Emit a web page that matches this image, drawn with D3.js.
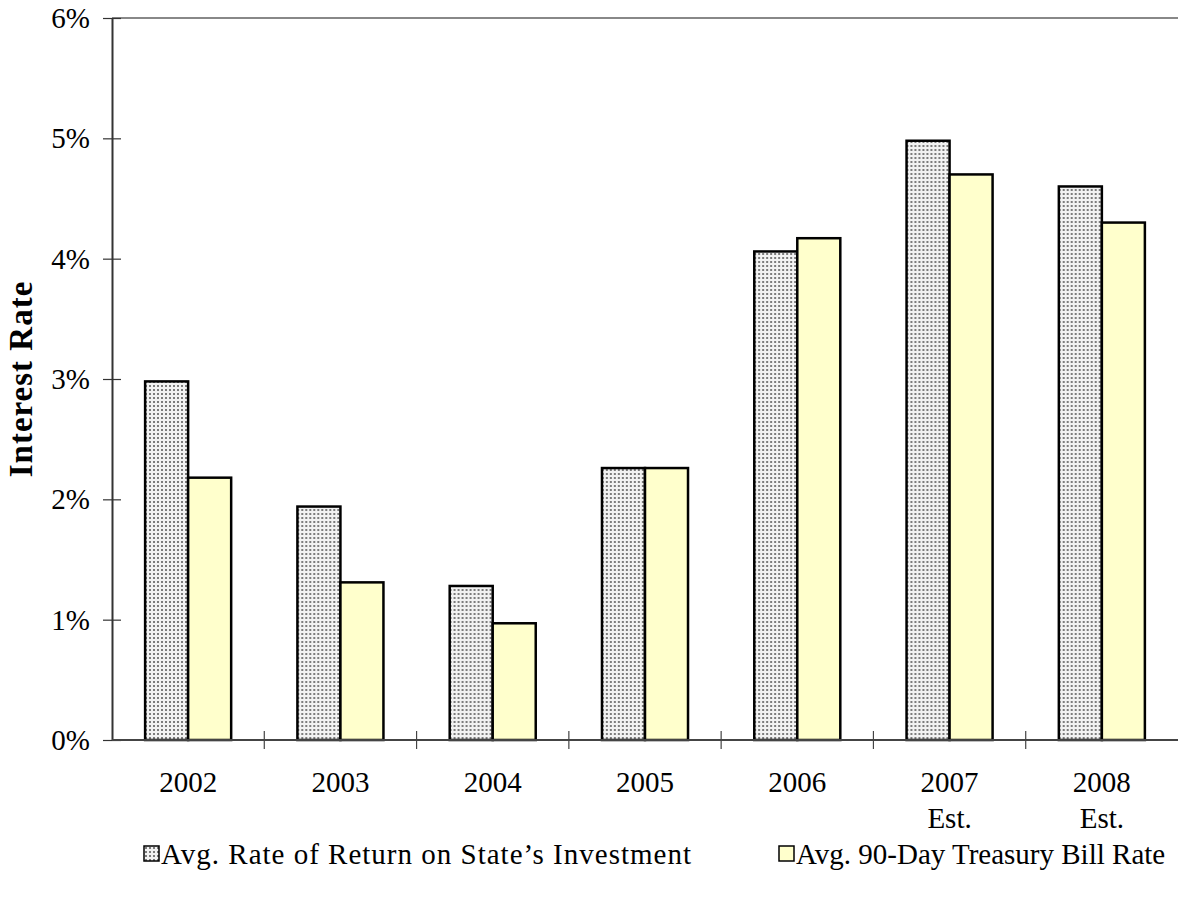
<!DOCTYPE html>
<html>
<head>
    <title>Interest Rate Chart</title>
    <script src="https://d3js.org/d3.v7.min.js"></script>
    <style>
        body {margin: 0; background: #fff;}
        text {font-family: "Liberation Serif", "Times New Roman", serif;}
    </style>
</head>
<body>
<script>
    // chart data
    const years = ["2002", "2003", "2004", "2005", "2006", "2007", "2008"];
    const yearSub = ["", "", "", "", "", "Est.", "Est."];
    const seriesNames = ["Avg. Rate of Return on State\u2019s Investment", "Avg. 90-Day Treasury Bill Rate"];
    const stateReturn = [2.98, 1.94, 1.28, 2.26, 4.06, 4.98, 4.60];
    const tBillRate = [2.18, 1.31, 0.97, 2.26, 4.17, 4.70, 4.30];
    const yTicks = [0, 1, 2, 3, 4, 5, 6];

    const width = 1178, height = 898;
    const plotLeft = 112, plotRight = 1178, plotTop = 18, plotBottom = 740;
    const fontSize = "29px";

    const svg = d3.select("body").append("svg")
        .attr("width", width)
        .attr("height", height);

    // dotted fill for the first series
    const defs = svg.append("defs");
    const pat = defs.append("pattern")
        .attr("id", "dots")
        .attr("patternUnits", "userSpaceOnUse")
        .attr("width", 4).attr("height", 4);
    pat.append("rect").attr("width", 4).attr("height", 4).attr("fill", "#f2f2f2");
    pat.append("rect").attr("x", 1).attr("y", 1).attr("width", 2).attr("height", 2).attr("fill", "#9a9a9a");
    pat.append("rect").attr("x", 1.5).attr("y", 1.5).attr("width", 1).attr("height", 1).attr("fill", "#222");

    const fills = ["url(#dots)", "#ffffcc"];

    const x0 = d3.scaleBand().domain(years).range([plotLeft, plotRight]).padding(0);
    const x1 = d3.scaleBand().domain([0, 1]).range([0, x0.bandwidth()])
        .paddingInner(0).paddingOuter(0.77);
    const y = d3.scaleLinear().domain([0, 6]).range([plotBottom, plotTop]);

    // top border line
    svg.append("line")
        .attr("x1", plotLeft).attr("x2", plotRight)
        .attr("y1", y(6)).attr("y2", y(6))
        .attr("stroke", "#888").attr("stroke-width", 2);

    // bars
    const rows = years.map((yr, i) => ({year: yr, vals: [stateReturn[i], tBillRate[i]]}));
    const groups = svg.selectAll("g.year")
        .data(rows).enter().append("g")
        .attr("class", "year")
        .attr("transform", d => "translate(" + x0(d.year) + ",0)");
    groups.selectAll("rect")
        .data(d => d.vals.map((v, k) => ({k: k, v: v})))
        .enter().append("rect")
        .attr("x", d => x1(d.k))
        .attr("y", d => y(d.v))
        .attr("width", x1.bandwidth())
        .attr("height", d => y(0) - y(d.v))
        .attr("fill", d => fills[d.k])
        .attr("stroke", "#000")
        .attr("stroke-width", 2.5);

    // y axis
    const yAxis = svg.append("g")
        .attr("transform", "translate(" + plotLeft + ",0)")
        .call(d3.axisLeft(y).tickValues(yTicks).tickFormat(d => d + "%").tickSize(9).tickSizeOuter(0));
    yAxis.select(".domain").attr("stroke", "#333").attr("stroke-width", 2);
    yAxis.selectAll(".tick line").attr("x2", 9).attr("x1", -9).attr("stroke", "#333").attr("stroke-width", 1.2);
    yAxis.selectAll(".tick text")
        .attr("x", -22)
        .attr("dy", "0.33em")
        .style("font-size", fontSize)
        .attr("fill", "#000");

    // x axis
    const xAxis = svg.append("g")
        .attr("transform", "translate(0," + plotBottom + ")");
    xAxis.append("line")
        .attr("x1", plotLeft).attr("x2", plotRight)
        .attr("stroke", "#444").attr("stroke-width", 2);
    xAxis.selectAll("line.tick")
        .data(years.slice(1)).enter().append("line")
        .attr("class", "tick")
        .attr("x1", d => x0(d)).attr("x2", d => x0(d))
        .attr("y1", -9).attr("y2", 9)
        .attr("stroke", "#444").attr("stroke-width", 1.2);
    xAxis.selectAll("text.year")
        .data(years).enter().append("text")
        .attr("class", "year")
        .attr("x", d => x0(d) + x0.bandwidth() / 2)
        .attr("y", 52)
        .attr("text-anchor", "middle")
        .style("font-size", fontSize)
        .text(d => d);
    xAxis.selectAll("text.sub")
        .data(years).enter().append("text")
        .attr("class", "sub")
        .attr("x", d => x0(d) + x0.bandwidth() / 2)
        .attr("y", 88)
        .attr("text-anchor", "middle")
        .style("font-size", fontSize)
        .text((d, i) => yearSub[i]);

    // y axis title
    svg.append("text")
        .attr("transform", "translate(32," + ((plotTop + plotBottom) / 2) + ") rotate(-90)")
        .attr("text-anchor", "middle")
        .style("font-size", "33px")
        .style("font-weight", "bold")
        .style("letter-spacing", "1px")
        .text("Interest Rate");

    // legend
    const legX = [144, 779];
    const legSpacing = ["1px", "0px"];
    const leg = svg.selectAll("g.legend")
        .data(seriesNames).enter().append("g")
        .attr("class", "legend")
        .attr("transform", (d, i) => "translate(" + legX[i] + ",846)");
    leg.append("rect")
        .attr("width", 15).attr("height", 15)
        .attr("fill", (d, i) => fills[i])
        .attr("stroke", "#000").attr("stroke-width", 1.5);
    leg.append("text")
        .attr("x", 17).attr("y", 18)
        .style("font-size", fontSize)
        .style("letter-spacing", (d, i) => legSpacing[i])
        .text(d => d);
</script>
</body>
</html>
